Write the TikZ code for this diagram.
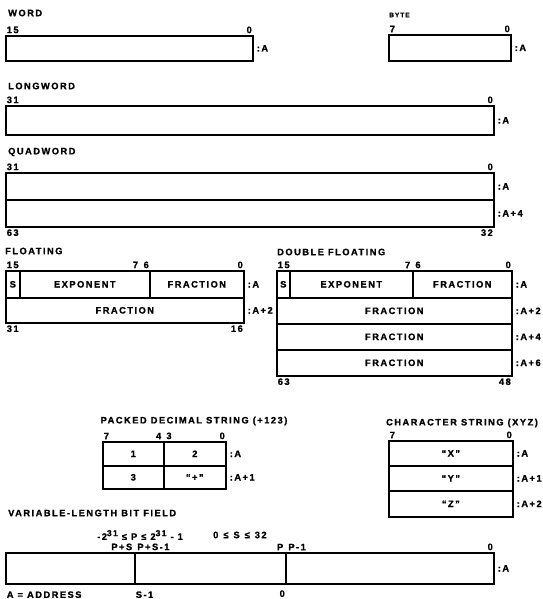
\documentclass[tikz,border=0pt]{standalone}
\usepackage{fontspec}
\setmainfont{Liberation Sans}[LetterSpace=16, BoldFeatures={FakeBold=1.2}]
\usetikzlibrary{positioning}

\begin{document}
\begin{tikzpicture}[x=1pt, y=-1pt,
  font=\bfseries\fontsize{9.3}{11}\selectfont,
  fld/.style={draw, line width=1.6pt, anchor=north west, inner sep=0pt,
              minimum height=26pt, align=center},
  ttl/.style={anchor=west, inner sep=0pt},
  bit/.style={inner sep=0.6pt, outer sep=1.2pt},
  lft/.style={xshift=-1.6pt},
  rgt/.style={xshift=1.6pt},
  adr/.style={right=3pt, inner sep=0pt},
]
  \useasboundingbox (0,0) rectangle (542,599);

  % word, byte, longword
  \node[ttl] (tWord) at (8,13) {WORD};
  \node[fld, minimum width=247pt, minimum height=25pt] (word) at (5,35) {};
  \node[bit, above right] (wHi) at (word.north west) {15};
  \node[bit, above left] (wLo) at (word.north east) {0};
  \node[adr] (wA) at (word.east) {:A};

  \node[ttl, font=\bfseries\fontsize{6.5}{7}\selectfont] (tByte) at (389,15) {BYTE};
  \node[fld, minimum width=122pt] (byte) at (388,34) {};
  \node[bit, above right] (bHi) at (byte.north west) {7};
  \node[bit, above left] (bLo) at (byte.north east) {0};
  \node[adr] (bA) at (byte.east) {:A};

  \node[ttl] (tLong) at (8,86) {LONGWORD};
  \node[fld, minimum width=488pt, minimum height=29pt] (lword) at (5,105) {};
  \node[bit, above right] (lHi) at (lword.north west) {31};
  \node[bit, above left] (lLo) at (lword.north east) {0};
  \node[adr] (lA) at (lword.east) {:A};

  % quadword
  \node[ttl] (tQuad) at (8,152) {QUADWORD};
  \node[fld, minimum width=488pt, minimum height=27pt] (qA) at (5,172) {};
  \node[fld, minimum width=488pt, minimum height=27pt] (qB) at (5,199) {};
  \node[bit, above right] (qHi) at (qA.north west) {31};
  \node[bit, above left] (qLo) at (qA.north east) {0};
  \node[bit, below right] (qHi2) at (qB.south west) {63};
  \node[bit, below left] (qLo2) at (qB.south east) {32};
  \node[adr] (qAa) at (qA.east) {:A};
  \node[adr] (qBa) at (qB.east) {:A+4};

  % floating
  \node[ttl] (tFlt) at (5,251) {FLOATING};
  \node[fld, minimum width=14pt, minimum height=27pt] (fS) at (5,270) {S};
  \node[fld, minimum width=130pt, minimum height=27pt] (fExp) at (19,270) {EXPONENT};
  \node[fld, minimum width=94pt, minimum height=27pt] (fFrA) at (149,270) {FRACTION};
  \node[fld, minimum width=238pt, minimum height=25pt] (fFrB) at (5,297) {FRACTION};
  \node[bit, above right] (fHi) at (fS.north west) {15};
  \node[bit, above left] (f6) at (fExp.north east) {6};
  \node[bit, left=2pt of f6] (f7) {7};
  \node[bit, above left] (fLo) at (fFrA.north east) {0};
  \node[bit, below right] (fHi2) at (fFrB.south west) {31};
  \node[bit, below left] (fLo2) at (fFrB.south east) {16};
  \node[adr] (fAa) at (fFrA.east) {:A};
  \node[adr] (fAb) at (fFrB.east) {:A+2};

  % double floating
  \node[ttl] (tDbl) at (277,252) {DOUBLE FLOATING};
  \node[fld, minimum width=13pt, minimum height=27pt] (dS) at (276,270) {S};
  \node[fld, minimum width=123pt, minimum height=27pt] (dExp) at (289,270) {EXPONENT};
  \node[fld, minimum width=99pt, minimum height=27pt] (dFrA) at (412,270) {FRACTION};
  \node[fld, minimum width=235pt] (dFrB) at (276,297) {FRACTION};
  \node[fld, minimum width=235pt] (dFrC) at (276,323) {FRACTION};
  \node[fld, minimum width=235pt] (dFrD) at (276,349) {FRACTION};
  \node[bit, above right] (dHi) at (dS.north west) {15};
  \node[bit, lft, above left] (d7) at (dExp.north east) {7};
  \node[bit, rgt, above right] (d6) at (dFrA.north west) {6};
  \node[bit, above left] (dLo) at (dFrA.north east) {0};
  \node[bit, below right] (dHi2) at (dFrD.south west) {63};
  \node[bit, below left] (dLo2) at (dFrD.south east) {48};
  \node[adr] (dAa) at (dFrA.east) {:A};
  \node[adr] (dAb) at (dFrB.east) {:A+2};
  \node[adr] (dAc) at (dFrC.east) {:A+4};
  \node[adr] (dAd) at (dFrD.east) {:A+6};

  % packed decimal
  \node (tPack) at (194,421) {PACKED DECIMAL STRING (+123)};
  \node[fld, minimum width=61pt, minimum height=24pt] (p1) at (102,441) {1};
  \node[fld, minimum width=62pt, minimum height=24pt] (p2) at (163,441) {2};
  \node[fld, minimum width=61pt, minimum height=23pt] (p3) at (102,465) {3};
  \node[fld, minimum width=62pt, minimum height=23pt] (p4) at (163,465) {``+''};
  \node[bit, above right] (pHi) at (p1.north west) {7};
  \node[bit, lft, above left] (p4b) at (p1.north east) {4};
  \node[bit, rgt, above right] (p3b) at (p2.north west) {3};
  \node[bit, above left] (pLo) at (p2.north east) {0};
  \node[adr] (pAa) at (p2.east) {:A};
  \node[adr] (pAb) at (p4.east) {:A+1};

  % character string
  \node (tChar) at (462,423) {CHARACTER STRING (XYZ)};
  \node[fld, minimum width=124pt, minimum height=25pt] (cX) at (388,440) {``X''};
  \node[fld, minimum width=124pt, minimum height=25pt] (cY) at (388,465) {``Y''};
  \node[fld, minimum width=124pt] (cZ) at (388,490) {``Z''};
  \node[bit, above right] (cHi) at (cX.north west) {7};
  \node[bit, above left] (cLo) at (cX.north east) {0};
  \node[adr] (cAa) at (cX.east) {:A};
  \node[adr] (cAb) at (cY.east) {:A+1};
  \node[adr] (cAc) at (cZ.east) {:A+2};

  % variable-length bit field
  \node[ttl] (tVar) at (8,513) {VARIABLE-LENGTH BIT FIELD};
  \node[ttl] (rngP) at (97,535) {-2\raisebox{0.4em}{\fontsize{8.5}{8}\selectfont 31} ≤ P ≤ 2\raisebox{0.4em}{\fontsize{8.5}{8}\selectfont 31} - 1};
  \node[ttl] (rngS) at (213,535) {0\hspace{5pt}≤\hspace{5pt}S\hspace{5pt}≤\hspace{5pt}32};
  \node[fld, minimum width=129pt, minimum height=31pt] (v1) at (5,552) {};
  \node[fld, minimum width=151pt, minimum height=31pt] (v2) at (134,552) {};
  \node[fld, minimum width=208pt, minimum height=31pt] (v3) at (285,552) {};
  \node[bit, lft, above left] (vPS) at (v1.north east) {P+S};
  \node[bit, rgt, above right] (vPS1) at (v2.north west) {P+S-1};
  \node[bit, lft, above left] (vP) at (v2.north east) {P};
  \node[bit, rgt, above right] (vP1) at (v3.north west) {P-1};
  \node[bit, above left] (vLo) at (v3.north east) {0};
  \node[bit, below right, yshift=-5pt] (vS1) at (v2.south west) {S-1};
  \node[bit, below left, yshift=-4pt] (v0) at (v2.south east) {0};
  \node[bit, below right, yshift=-5pt] (legend) at (v1.south west) {A = ADDRESS};
  \node[adr] (vA) at (v3.east) {:A};
\end{tikzpicture}
\end{document}
